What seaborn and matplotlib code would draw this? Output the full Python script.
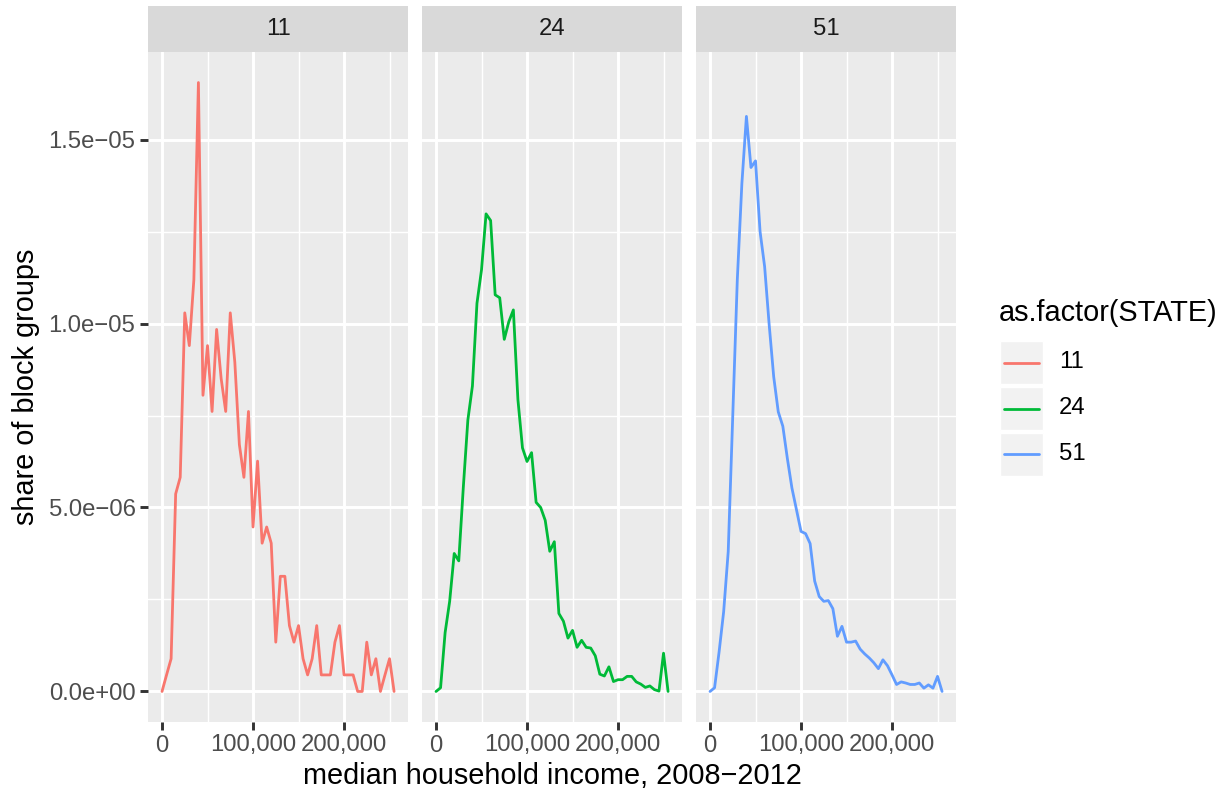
import numpy as np
import pandas as pd
import matplotlib
matplotlib.use("Agg")
import matplotlib.pyplot as plt
from matplotlib.patches import Rectangle
from matplotlib.lines import Line2D
from matplotlib.ticker import FuncFormatter, MultipleLocator
import seaborn as sns

# bin centres (median household income) and share of block groups, in 1e-6 units
income = list(range(0, 260000, 5000))
states = ["11", "24", "51"]
share_11 = [0, 0.45, 0.89, 5.37, 5.82, 10.29, 9.40, 11.19, 16.55, 8.05,
            9.40, 7.61, 9.84, 8.50, 7.61, 10.29, 8.95, 6.71, 5.82, 7.61,
            4.47, 6.26, 4.03, 4.47, 4.03, 1.34, 3.13, 3.13, 1.79, 1.34,
            1.79, 0.89, 0.45, 0.89, 1.79, 0.45, 0.45, 0.45, 1.34, 1.79,
            0.45, 0.45, 0.45, 0, 0, 1.34, 0.45, 0.89, 0, 0.45,
            0.89, 0]
share_24 = [0, 0.10, 1.60, 2.45, 3.75, 3.55, 5.55, 7.38, 8.30, 10.55,
            11.46, 12.98, 12.80, 10.78, 10.70, 9.57, 10.05, 10.37, 7.93, 6.62,
            6.25, 6.49, 5.14, 5.00, 4.65, 3.81, 4.07, 2.12, 1.91, 1.45,
            1.66, 1.20, 1.39, 1.20, 1.18, 0.97, 0.47, 0.42, 0.67, 0.27,
            0.32, 0.32, 0.41, 0.41, 0.26, 0.20, 0.11, 0.15, 0.05, 0.01,
            1.04, 0]
share_51 = [0, 0.10, 1.08, 2.17, 3.80, 7.50, 11.20, 13.80, 15.63, 14.24,
            14.42, 12.50, 11.55, 9.97, 8.55, 7.60, 7.21, 6.33, 5.53, 4.94,
            4.35, 4.29, 4.02, 3.00, 2.58, 2.45, 2.47, 2.25, 1.50, 1.77,
            1.34, 1.34, 1.37, 1.15, 1.02, 0.91, 0.78, 0.62, 0.86, 0.70,
            0.45, 0.19, 0.26, 0.23, 0.19, 0.19, 0.23, 0.09, 0.18, 0.09,
            0.41, 0]
colors = ["#F8766D", "#00BA38", "#619CFF"]

df = pd.DataFrame({
    "income": income * 3,
    "share": np.array(share_11 + share_24 + share_51) * 1e-6,
    "state": np.repeat(states, len(income)),
})

sns.set_style("white")
plt.rcParams["font.family"] = ["Liberation Sans", "DejaVu Sans"]

W, H = 1222, 793
fig = plt.figure(figsize=(W / 100, H / 100), dpi=100)

def fx(px):
    return px / W

def fy(py):
    return 1 - py / H

panel_x = [(148, 408), (422, 682), (696, 956)]
top, bottom = 52, 722
grid_major = 2.1
grid_minor = 1.05
small = 17.2
big = 20.8

def sci(v, pos):
    s = "%.1e" % v
    return s.replace("-", "\u2212")

axes = []
for i, (st, (x0, x1)) in enumerate(zip(states, panel_x)):
    ax = fig.add_axes([fx(x0), fy(bottom), fx(x1 - x0), (bottom - top) / H])
    axes.append(ax)
    ax.set_facecolor("#EBEBEB")
    sns.lineplot(data=df[df["state"] == st], x="income", y="share",
                 color=colors[i], linewidth=2.0, ax=ax, legend=False)
    ax.set_xlim(-15400, 270300)
    ax.set_ylim(-0.83e-6, 17.38e-6)
    ax.xaxis.set_major_locator(MultipleLocator(100000))
    ax.xaxis.set_minor_locator(MultipleLocator(50000))
    ax.yaxis.set_major_locator(MultipleLocator(5e-6))
    ax.yaxis.set_minor_locator(MultipleLocator(2.5e-6))
    ax.grid(which="major", color="white", linewidth=grid_major)
    ax.grid(which="minor", color="white", linewidth=grid_minor)
    ax.set_axisbelow(True)
    for sp in ax.spines.values():
        sp.set_visible(False)
    ax.xaxis.set_major_formatter(FuncFormatter(lambda v, p: "{:,.0f}".format(v)))
    ax.yaxis.set_major_formatter(FuncFormatter(sci))
    ax.tick_params(which="major", length=6, width=grid_major, color="#333333",
                   labelsize=small, labelcolor="#4D4D4D", pad=3)
    ax.tick_params(which="minor", length=0)
    ax.tick_params(axis="y", left=(i == 0), labelleft=(i == 0))
    ax.tick_params(axis="x", bottom=True)
    ax.set_xlabel("")
    ax.set_ylabel("")

    # facet strip
    fig.patches.append(Rectangle((fx(x0), fy(top)), fx(x1 - x0), (top - 6) / H,
                                 transform=fig.transFigure, facecolor="#D9D9D9",
                                 edgecolor="none"))
    fig.text(fx((x0 + x1) / 2), fy((top + 6) / 2), st, ha="center", va="center",
             fontsize=small, color="#1A1A1A")

fig.text(fx(552), fy(776), "median household income, 2008\u22122012",
         ha="center", va="center", fontsize=big, color="black")
fig.text(fx(26), fy(387), "share of block groups", ha="center", va="center",
         rotation=90, fontsize=big, color="black")

# legend
fig.text(fx(999), fy(313), "as.factor(STATE)", ha="left", va="center",
         fontsize=big, color="black")
for i, st in enumerate(states):
    ky = 341 + i * 46
    fig.patches.append(Rectangle((fx(1000), fy(ky + 43)), fx(43), 43 / H,
                                 transform=fig.transFigure, facecolor="#F2F2F2",
                                 edgecolor="white"))
    fig.lines.append(Line2D([fx(1004), fx(1039)], [fy(ky + 21.5)] * 2,
                            transform=fig.transFigure, color=colors[i],
                            linewidth=2.0))
    fig.text(fx(1059), fy(ky + 21.5), st, ha="left", va="center",
             fontsize=small, color="black")

fig.savefig("out.png", dpi=100, facecolor="white")
